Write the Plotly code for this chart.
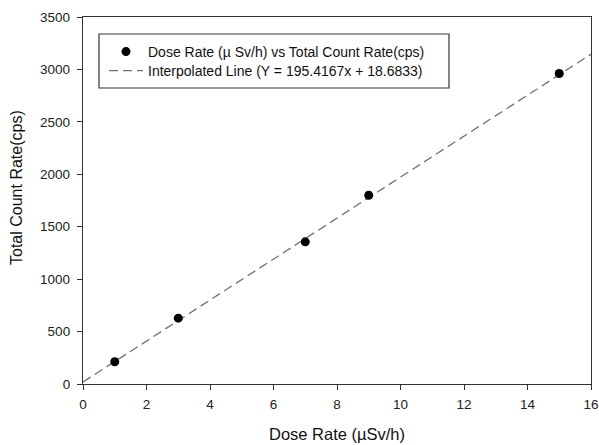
import plotly.graph_objects as go

dose_rate = [1, 3, 7, 9, 15]
count_rate = [212, 628, 1356, 1800, 2961]
line_x = [0, 16]
line_y = [18.68, 3145.35]
x_ticks = [0, 2, 4, 6, 8, 10, 12, 14, 16]
y_ticks = [0, 500, 1000, 1500, 2000, 2500, 3000, 3500]

# plot area in pixels: x 83..591, y 17..384
PL, PR, PT, PB = 83, 591, 17, 384

def px_x(p):
    return (p - PL) / float(PR - PL)

def px_y(p):
    return (PB - p) / float(PB - PT)

fig = go.Figure()
fig.add_trace(go.Scatter(
    x=line_x, y=line_y, mode="lines",
    name="Interpolated Line (Y = 195.4167x + 18.6833)",
    line=dict(color="#707070", width=1.3, dash="9px,5px"),
    legend="legend2",
))
fig.add_trace(go.Scatter(
    x=dose_rate, y=count_rate, mode="markers",
    name="Dose Rate (\u00b5 Sv/h) vs Total Count Rate(cps)",
    marker=dict(color="black", size=9),
    legend="legend",
))

axis_common = dict(
    showgrid=False, zeroline=False, showline=True, linecolor="#333333",
    linewidth=1.3, mirror=True, ticks="outside", ticklen=5, tickwidth=1.2,
    tickcolor="#333333", tickfont=dict(size=13.5, color="#222222"),
    automargin=False,
)
legend_common = dict(
    xanchor="left", yanchor="middle", bgcolor="rgba(0,0,0,0)",
    borderwidth=0, font=dict(size=14, color="#111111"), itemwidth=34,
)
fig.update_layout(
    width=599, height=445,
    margin=dict(l=PL, r=599 - PR, t=PT, b=445 - PB),
    paper_bgcolor="white", plot_bgcolor="white",
    font=dict(family="Liberation Sans, Arial, sans-serif", color="#111111"),
    xaxis=dict(range=[0, 16], tickvals=x_ticks, ticklabelstandoff=3,
               title=dict(text="Dose Rate (\u00b5Sv/h)", font=dict(size=16.5), standoff=17),
               **axis_common),
    yaxis=dict(range=[0, 3500], tickvals=y_ticks, ticklabelstandoff=4, **axis_common),
    legend=dict(x=px_x(104), y=px_y(52), **legend_common),
    legend2=dict(x=px_x(104), y=px_y(71), **legend_common),
    showlegend=True,
    shapes=[dict(type="rect", xref="paper", yref="paper",
                 x0=px_x(99), x1=px_x(449), y0=px_y(88), y1=px_y(34),
                 line=dict(color="#333333", width=1.2), fillcolor="rgba(0,0,0,0)")],
    annotations=[dict(text="Total Count Rate(cps)", xref="paper", yref="paper",
                      x=px_x(16), y=px_y(188), textangle=-90, showarrow=False,
                      xanchor="center", yanchor="middle",
                      font=dict(size=16, color="#111111"))],
)
fig.write_html("out.html", config={"displayModeBar": False},
               post_script="document.body.style.margin='0';document.body.style.overflow='hidden';")
